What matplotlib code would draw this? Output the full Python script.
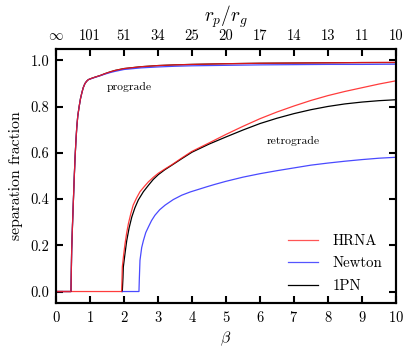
import matplotlib
matplotlib.use("Agg")
import matplotlib.pyplot as plt

plt.rcParams['font.family'] = 'serif'
plt.rcParams['font.serif'] = ['cmr10', 'DejaVu Serif']
plt.rcParams['mathtext.fontset'] = 'cm'
plt.rcParams['axes.formatter.use_mathtext'] = True

# Prograde (all three nearly identical)
pro_beta = [0.0, 0.44, 0.45, 0.46, 0.485, 0.51, 0.535, 0.56, 0.585, 0.61, 0.64, 0.68, 0.72, 0.76, 0.8,
            0.85, 0.9, 0.95, 1.05, 1.15, 1.3, 1.44, 1.6, 1.74, 2.0, 2.5, 3.0, 3.5, 4.0, 5.0, 6.0, 7.0,
            8.0, 9.0, 10.0]
pro_hrna = [0.0, 0.0, 0.09, 0.176, 0.29, 0.39, 0.49, 0.58, 0.65, 0.71, 0.76, 0.80, 0.835, 0.86, 0.882,
            0.90, 0.91, 0.917, 0.923, 0.928, 0.935, 0.943, 0.951, 0.957, 0.965, 0.973, 0.978, 0.981,
            0.983, 0.986, 0.988, 0.989, 0.99, 0.991, 0.992]
pro_newton = [0.0, 0.0, 0.09, 0.176, 0.29, 0.39, 0.49, 0.58, 0.65, 0.71, 0.76, 0.80, 0.835, 0.86, 0.882,
              0.90, 0.91, 0.917, 0.922, 0.927, 0.934, 0.941, 0.948, 0.953, 0.961, 0.968, 0.972, 0.975,
              0.977, 0.979, 0.981, 0.982, 0.983, 0.983, 0.984]
pro_1pn = [0.0, 0.0, 0.09, 0.176, 0.29, 0.39, 0.49, 0.58, 0.65, 0.71, 0.76, 0.80, 0.835, 0.86, 0.882,
           0.90, 0.91, 0.917, 0.923, 0.928, 0.935, 0.943, 0.951, 0.957, 0.965, 0.973, 0.978, 0.981,
           0.983, 0.986, 0.988, 0.989, 0.99, 0.991, 0.991]

# Retrograde
ret_beta_hrna = [0.0, 1.93, 1.94, 1.95, 1.99, 2.03, 2.08, 2.13, 2.2, 2.27, 2.37, 2.47, 2.6, 2.72, 2.86,
                 3.01, 3.2, 3.4, 3.7, 3.99, 4.5, 5.0, 5.5, 6.0, 6.5, 7.0, 7.5, 8.0, 8.5, 9.0, 9.5, 10.0]
ret_hrna = [0.0, 0.0, 0.05, 0.106, 0.16, 0.207, 0.255, 0.294, 0.337, 0.374, 0.405, 0.432, 0.455, 0.475,
            0.494, 0.512, 0.53, 0.548, 0.578, 0.606, 0.643, 0.68, 0.715, 0.748, 0.777, 0.803, 0.827,
            0.848, 0.866, 0.882, 0.898, 0.912]
ret_beta_1pn = [1.95, 1.97, 1.98, 2.03, 2.08, 2.15, 2.23, 2.32, 2.42, 2.57, 2.72, 2.86, 3.01, 3.2, 3.4,
                3.7, 4.0, 4.5, 5.0, 5.5, 6.0, 6.5, 7.0, 7.5, 8.0, 8.5, 9.0, 9.5, 10.0]
ret_1pn = [0.0, 0.06, 0.106, 0.165, 0.22, 0.275, 0.323, 0.362, 0.396, 0.432, 0.46, 0.485, 0.506, 0.527,
           0.546, 0.575, 0.603, 0.638, 0.669, 0.699, 0.727, 0.75, 0.77, 0.787, 0.801, 0.812, 0.82,
           0.826, 0.83]
ret_beta_newton = [1.93, 2.44, 2.45, 2.47, 2.52, 2.57, 2.64, 2.72, 2.81, 2.91, 3.05, 3.21, 3.45, 3.7,
                   3.95, 4.19, 4.45, 4.68, 5.0, 5.5, 6.0, 6.5, 7.0, 7.5, 8.0, 8.5, 9.0, 9.5, 10.0]
ret_newton = [0.0, 0.0, 0.05, 0.135, 0.19, 0.22, 0.255, 0.28, 0.307, 0.33, 0.354, 0.374, 0.398, 0.417,
              0.431, 0.442, 0.454, 0.464, 0.477, 0.495, 0.51, 0.523, 0.535, 0.547, 0.556, 0.564, 0.571,
              0.577, 0.581]

top_labels = [r'$\infty$', '101', '51', '34', '25', '20', '17', '14', '13', '11', '10']
x_ticks = list(range(0, 11))

fig = plt.figure(figsize=(4.15, 3.52), dpi=100)
ax = fig.add_axes([0.135, 0.139, 0.819, 0.722])

lw = 0.9
red = '#ff1a1a'
blue = '#2a2aff'
ax.plot(ret_beta_1pn, ret_1pn, color='black', lw=lw)
ax.plot(ret_beta_newton, ret_newton, color=blue, lw=lw, alpha=0.85)
ax.plot(ret_beta_hrna, ret_hrna, color=red, lw=lw, alpha=0.85)
ax.plot(pro_beta, pro_1pn, color='black', lw=lw)
ax.plot(pro_beta, pro_newton, color=blue, lw=lw, alpha=0.85)
ax.plot(pro_beta, pro_hrna, color=red, lw=lw, alpha=0.85)

# legend handles
ax.plot([], [], color='#ff5555', lw=lw, label='HRNA')
ax.plot([], [], color='#5555ff', lw=lw, label='Newton')
ax.plot([], [], color='black', lw=lw, label='1PN')
ax.legend(loc='lower right', frameon=False, fontsize=10.7, handlelength=2.0, handletextpad=1.0,
          bbox_to_anchor=(1.0, -0.012), labelspacing=0.58)

ax.text(1.5, 0.887, 'prograde', fontsize=8.4, va='center', ha='left')
ax.text(6.2, 0.652, 'retrograde', fontsize=8.4, va='center', ha='left')

ax.set_xlim(0, 10)
ax.set_ylim(-0.05, 1.05)
ax.set_xticks(x_ticks)
ax.set_yticks([0.0, 0.2, 0.4, 0.6, 0.8, 1.0])
ax.set_yticklabels(['0.0', '0.2', '0.4', '0.6', '0.8', '1.0'])
ax.set_xlabel(r'$\beta$', fontsize=11.5, labelpad=3)
ax.set_ylabel('separation fraction', fontsize=11.3, labelpad=5)
ax.tick_params(direction='in', length=5, width=1.5, labelsize=10.5, right=True, pad=5)

ax2 = ax.twiny()
ax2.set_xlim(0, 10)
ax2.set_xticks(x_ticks)
ax2.set_xticklabels(top_labels)
ax2.tick_params(direction='in', length=5, width=1.5, labelsize=10.5, pad=4)
ax2.set_xlabel(r'$r_p/r_g$', fontsize=14, labelpad=6)

for a in (ax, ax2):
    for s in a.spines.values():
        s.set_linewidth(1.5)

fig.savefig('out.png', dpi=100)
